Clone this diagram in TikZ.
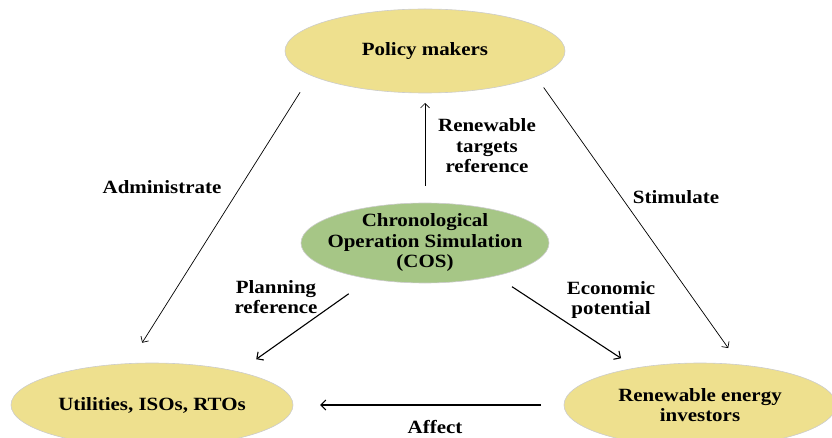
\documentclass[tikz,border=0pt]{standalone}
\usepackage{fontspec}
\setmainfont{Liberation Serif}[FakeStretch=1.12]
\usepackage{tikz}
\usetikzlibrary{shapes.geometric,arrows.meta}

\definecolor{sand}{RGB}{238,224,142}
\definecolor{sage}{RGB}{166,198,134}

\begin{document}
\begin{tikzpicture}[x=1pt, y=-1pt,
    blob/.style={ellipse, draw=gray!40, line width=0.6pt,
        inner sep=0pt, outer sep=0pt},
    txt/.style={align=center, inner sep=0pt,
        font=\fontsize{18.7}{20.5}\selectfont\bfseries},
    lnk/.style={-{Straight Barb[length=4.5pt,width=9pt]}, line width=0.7pt},
    heavy/.style={-{Straight Barb[length=5pt,width=10pt]}, line width=1.1pt}]
    \useasboundingbox (0,0) rectangle (832,438);

    % the four actors
    \node[blob, fill=sand, minimum width=280pt, minimum height=84pt,
        label={[txt]center:Policy makers}] (policy) at (425,51) {};
    \node[blob, fill=sage, minimum width=248pt, minimum height=80pt,
        label={[txt]center:Chronological\\Operation Simulation\\(COS)}]
        (cos) at (425,243) {};
    \node[blob, fill=sand, minimum width=282pt, minimum height=84pt,
        label={[txt]center:Utilities, ISOs, RTOs}] (util) at (152,405) {};
    \node[blob, fill=sand, minimum width=272pt, minimum height=84pt,
        label={[txt]center:Renewable energy\\investors}] (invest) at (700,405) {};

    % links
    \draw[lnk, shorten <=20pt, shorten >=24.6pt] (policy.192.9) -- (util.119.5);
    \draw[lnk, shorten <=13.3pt, shorten >=20.6pt] (policy.347.7) -- (invest.45.9);
    \draw[lnk, shorten <=17pt, shorten >=10pt] (cos.north) -- (policy.south);
    \draw[heavy, shorten <=25.9pt, shorten >=21.8pt] (cos.213) -- (util.21.5);
    \draw[heavy, shorten <=19.7pt, shorten >=17.7pt] (cos.335.9) -- (invest.150.4);
    \draw[heavy, shorten <=23pt, shorten >=27pt] (invest.west) -- (util.east);

    % link labels
    \node[txt] (adm) at (162,187) {Administrate};
    \node[txt] (stim) at (676,197) {Stimulate};
    \node[txt] (targ) at (487,146) {Renewable\\targets\\reference};
    \node[txt] (plan) at (276,297) {Planning\\reference};
    \node[txt] (econ) at (611,300) {Economic\\potential};
    \node[txt] (aff) at (435,427) {Affect};
\end{tikzpicture}
\end{document}
